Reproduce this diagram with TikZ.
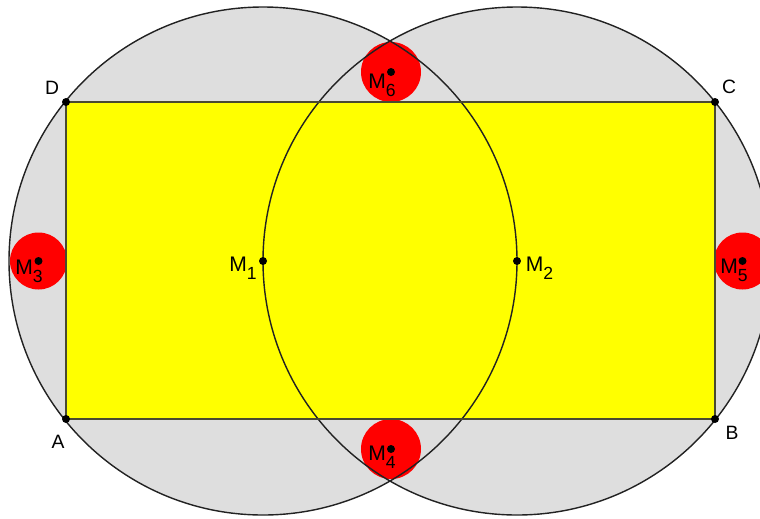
\documentclass[tikz,border=0pt]{standalone}
\usepackage{fontspec}
\setmainfont{Liberation Sans}
\usetikzlibrary{calc}
\definecolor{greyzone}{HTML}{DEDEDE}
\definecolor{plate}{HTML}{FFFF00}
\definecolor{spot}{HTML}{FF0000}
\definecolor{edge}{HTML}{4A4A30}
\definecolor{ink}{HTML}{222222}
\newcommand{\Mlab}[1]{{\fontsize{12}{14}\selectfont M}\raisebox{-4.8pt}{\fontsize{10}{11}\selectfont #1}}

\begin{document}
\begin{tikzpicture}[x=0.02cm,y=-0.02cm,font=\fontsize{11}{13}\selectfont,
  lab/.style={inner sep=0pt,anchor=base west},
  corner/.style={inner sep=0pt}]
  \useasboundingbox (0,0) rectangle (760,518);
  \clip (0,0) rectangle (760,518);
  \coordinate (A) at (66,419);
  \coordinate (B) at (715,419);
  \coordinate (C) at (715,102);
  \coordinate (D) at (66,102);
  \coordinate (M1) at (263,261);
  \coordinate (M2) at (517,261);
  \coordinate (M3) at (38.5,261);
  \coordinate (M4) at (391,449);
  \coordinate (M5) at (742.5,261);
  \coordinate (M6) at (391,72);

  % the two big circles, each through the other centre
  \fill[greyzone] (M1) circle (254);
  \fill[greyzone] (M2) circle (254);
  \fill[plate] (A) rectangle (C);
  \fill[spot] (M3) circle (28.5);
  \fill[spot] (M5) circle (28.5);
  \fill[spot] (M6) circle (30);
  \fill[spot] (M4) circle (30);
  \draw[ink,line width=0.8pt] (M1) circle (254);
  \draw[ink,line width=0.8pt] (M2) circle (254);
  \draw[edge,line width=1.1pt] (A) -- (B) -- (C) -- (D) -- cycle;

  \foreach \p in {A,B,C,D,M1,M2,M3,M4,M5,M6}
    \fill (\p) circle (4);

  \node[corner] (labA) at (58,442) {A};
  \node[corner] (labB) at (732,433) {B};
  \node[corner] (labC) at (729,87) {C};
  \node[corner] (labD) at (52,88) {D};
  \node[lab] (labM1) at (229,271) {\Mlab{1}};
  \node[lab] (labM2) at (525.5,271) {\Mlab{2}};
  \node[lab] (labM3) at (15,274) {\Mlab{3}};
  \node[lab] (labM4) at (368,460) {\Mlab{4}};
  \node[lab] (labM5) at (720,273) {\Mlab{5}};
  \node[lab] (labM6) at (368,88) {\Mlab{6}};
\end{tikzpicture}
\end{document}
